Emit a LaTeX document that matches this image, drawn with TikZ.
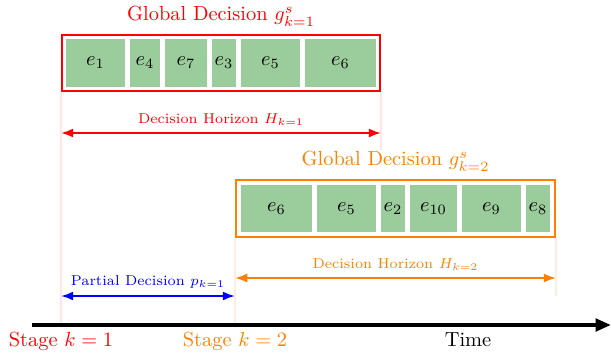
\documentclass[tikz,border=0pt]{standalone}
\usepackage{amsmath}
\usepackage{amssymb}
\usetikzlibrary{arrows.meta,positioning}
\definecolor{cellgreen}{RGB}{155,204,155}
\definecolor{orng}{RGB}{255,128,0}
\tikzstyle{cell}=[fill=cellgreen,inner sep=0pt]
\tikzstyle{decbox}=[draw,line width=1pt,inner sep=0pt]
\tikzstyle{guide}=[line width=0.7pt]
\tikzstyle{horizon}=[{Latex[length=6pt,width=4.5pt]}-{Latex[length=6pt,width=4.5pt]},line width=1pt]
\tikzstyle{lbl}=[font=\scriptsize,above]

\begin{document}
\begin{tikzpicture}[x=0.49pt,y=-0.49pt]
          \useasboundingbox (0,0) rectangle (611,356);
          % stage 1
          \node[decbox,draw=red,minimum width=318*0.49pt,minimum height=56*0.49pt] (G-1) at (221,63) {};
          \foreach \name/\from/\to in {1/66/125, 4/130/160, 7/165/207,
                                       3/212/236, 5/241/300, 6/305/376}
            \node[cell,minimum width={(\to-\from)*0.49pt},minimum height=48*0.49pt] (a-\name) at ({(\from+\to)/2},63) {$e_{\name}$};
          \node[red,above=0pt of G-1] (title-1) {Global Decision $g^s_{k=1}$};
          % stage 2
          \node[decbox,draw=orng,minimum width=319*0.49pt,minimum height=57*0.49pt] (G-2) at (395.5,208.5) {};
          \foreach \name/\from/\to in {6/241/312, 5/317/376, 2/381/405,
                                       10/410/457, 9/462/521, 8/526/550}
            \node[cell,minimum width={(\to-\from)*0.49pt},minimum height=47*0.49pt] (b-\name) at ({(\from+\to)/2},208.5) {$e_{\name}$};
          \node[orng,above=0pt of G-2] (title-2) {Global Decision $g^s_{k=2}$};
          % guides
          \coordinate (s-1) at (61,325);
          \coordinate (s-2) at (235,325);
          \coordinate (e-1) at (381,150);
          \coordinate (e-2) at (556,296);
          \draw[guide,red!15] (G-1.south west) -- (s-1);
          \draw[guide,red!15] (G-1.south east) -- (e-1);
          \draw[guide,orng!20] (G-2.south west) -- (s-2);
          \draw[guide,orng!20] (G-2.south east) -- (e-2);
          % horizons
          \draw[horizon,red] (s-1 |- 0,133) -- node[lbl] {Decision Horizon $H_{k=1}$} (e-1 |- 0,133);
          \draw[horizon,orng] (s-2 |- 0,278) -- node[lbl] {Decision Horizon $H_{k=2}$} (e-2 |- 0,278);
          \draw[horizon,blue] (s-1 |- 0,296) -- node[lbl] {Partial Decision $p_{k=1}$} (s-2 |- 0,296);
          % time axis
          \coordinate (t-a) at (32,325);
          \coordinate (t-b) at (611,325);
          \coordinate (t-m) at (468,325);
          \draw[-{Triangle[length=7.5pt,width=6pt]},line width=2pt] (t-a) -- (t-b);
          \node[red,below=0pt of s-1] (stage-1) {Stage $k=1$};
          \node[orng,below=0pt of s-2] (stage-2) {Stage $k=2$};
          \node[below=0pt of t-m] (time) {Time};
        \end{tikzpicture}
\end{document}
